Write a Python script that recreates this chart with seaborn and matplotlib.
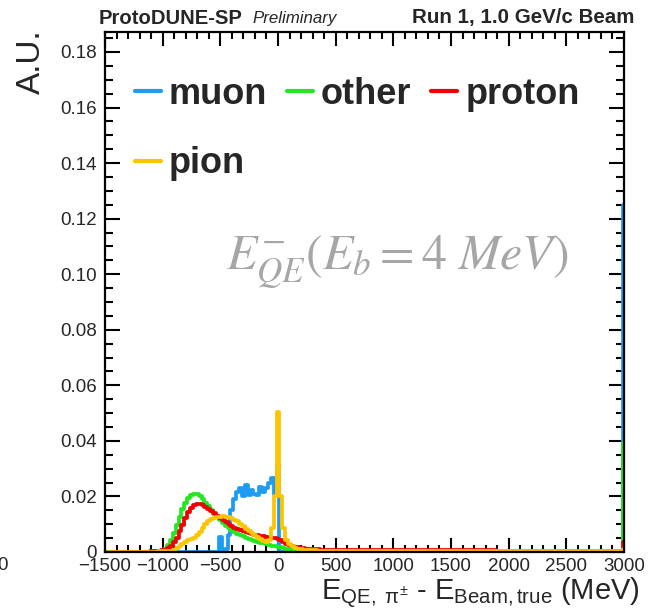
import numpy as np
import pandas as pd
import matplotlib
matplotlib.use("Agg")
import matplotlib.pyplot as plt
from matplotlib.ticker import MultipleLocator, FuncFormatter
from matplotlib.lines import Line2D
import seaborn as sns

# ---------------- data ----------------
# fine bins: 25 MeV wide, centred at -1100 ... 375 MeV
core_centers = list(range(-1100, 400, 25))

muon_core = [0]*24 + [
    0.0055, 0.0000, 0.0010, 0.0060, 0.0150, 0.0190, 0.0215, 0.0230, 0.0200, 0.0240,
    0.0205, 0.0225, 0.0210, 0.0205, 0.0235, 0.0215, 0.0230, 0.0250, 0.0268, 0.0205,
    0.0313, 0.0000, 0.0, 0.0, 0.0, 0.0, 0.0, 0.0, 0.0, 0.0, 0.0, 0.0, 0.0, 0.0, 0.0, 0.0]

other_core = [
    0.0001, 0.0001, 0.0002, 0.0003, 0.0006, 0.0012, 0.0025, 0.0045, 0.0070, 0.0098,
    0.0127, 0.0155, 0.0178, 0.0195, 0.0205, 0.0209, 0.0208, 0.0200, 0.0190, 0.0178,
    0.0164, 0.0150, 0.0137, 0.0125, 0.0114, 0.0104, 0.0095, 0.0087, 0.0080, 0.0073,
    0.0066, 0.0061, 0.0056, 0.0051, 0.0047, 0.0043, 0.0040, 0.0037, 0.0034, 0.0031,
    0.0028, 0.0026, 0.0023, 0.0021, 0.0019, 0.0017, 0.0015, 0.0012, 0.0010, 0.0008,
    0.0006, 0.0005, 0.0004, 0.0004, 0.0003, 0.0003, 0.0003, 0.0002, 0.0002, 0.0002]

proton_core = [
    0.0002, 0.0002, 0.0003, 0.0004, 0.0006, 0.0009, 0.0014, 0.0022, 0.0035, 0.0052,
    0.0074, 0.0098, 0.0122, 0.0143, 0.0158, 0.0168, 0.0173, 0.0173, 0.0170, 0.0163,
    0.0156, 0.0148, 0.0140, 0.0131, 0.0122, 0.0114, 0.0107, 0.0100, 0.0094, 0.0088,
    0.0083, 0.0079, 0.0075, 0.0071, 0.0068, 0.0065, 0.0062, 0.0060, 0.0058, 0.0056,
    0.0054, 0.0052, 0.0050, 0.0049, 0.0047, 0.0042, 0.0036, 0.0030, 0.0026, 0.0022,
    0.0019, 0.0017, 0.0015, 0.0013, 0.0012, 0.0011, 0.0011, 0.0010, 0.0010, 0.0009]

pion_core = [
    0.0001, 0.0001, 0.0001, 0.0002, 0.0002, 0.0003, 0.0003, 0.0005, 0.0008, 0.0013,
    0.0020, 0.0028, 0.0035, 0.0042, 0.0048, 0.0052, 0.0060, 0.0072, 0.0085, 0.0100,
    0.0112, 0.0118, 0.0122, 0.0125, 0.0127, 0.0128, 0.0127, 0.0125, 0.0121, 0.0116,
    0.0110, 0.0102, 0.0093, 0.0084, 0.0075, 0.0067, 0.0060, 0.0053, 0.0046, 0.0040,
    0.0036, 0.0045, 0.0085, 0.0200, 0.0505, 0.0200, 0.0085, 0.0045, 0.0030, 0.0020,
    0.0015, 0.0012, 0.0010, 0.0009, 0.0008, 0.0007, 0.0006, 0.0006, 0.0005, 0.0005]

# coarse tail bins (edges) and their values, last bin holds the overflow spike
tail_edges = [387.5, 637.5, 887.5, 1137.5, 1387.5, 1637.5, 1887.5, 2137.5,
              2387.5, 2637.5, 2887.5, 2992.0, 3000.0]
muon_tail   = [0, 0, 0, 0, 0, 0, 0, 0, 0, 0, 0, 0.1250]
other_tail  = [0.0002, 0.0002, 0.0001, 0.0001, 0.0001, 0.0001, 0.0001, 0.0001, 0.0001, 0.0001, 0.0001, 0.0391]
proton_tail = [0.0008, 0.0007, 0.0007, 0.0006, 0.0006, 0.0006, 0.0005, 0.0005, 0.0005, 0.0005, 0.0005, 0.0037]
pion_tail   = [0.0004, 0.0003, 0.0003, 0.0003, 0.0002, 0.0002, 0.0002, 0.0002, 0.0002, 0.0002, 0.0002, 0.0010]

first_bin_value = {"muon": 0.0, "other": 0.0001, "proton": 0.0001, "pion": 0.0001}

series_names = ["muon", "other", "proton", "pion"]
series_colors = ["#1e9cf2", "#22e822", "#f00000", "#ffc400"]

# ---------------- build histogram table ----------------
core_edges = [c - 12.5 for c in core_centers] + [core_centers[-1] + 12.5]
edges = [-1500.0] + [float(e) for e in core_edges] + [float(e) for e in tail_edges[1:]]
centers = [0.5 * (a + b) for a, b in zip(edges[:-1], edges[1:])]
values = {
    "muon":   [first_bin_value["muon"]] + muon_core + muon_tail,
    "other":  [first_bin_value["other"]] + other_core + other_tail,
    "proton": [first_bin_value["proton"]] + proton_core + proton_tail,
    "pion":   [first_bin_value["pion"]] + pion_core + pion_tail,
}
frames = []
for name in series_names:
    frames.append(pd.DataFrame({"x": centers, "w": [float(v) for v in values[name]], "particle": name}))
df = pd.concat(frames, ignore_index=True)

# ---------------- style ----------------
sns.set_theme(style="ticks")
plt.rcParams["font.family"] = ["Liberation Sans", "DejaVu Sans"]
plt.rcParams["mathtext.fontset"] = "custom"
plt.rcParams["mathtext.rm"] = "Liberation Sans"
plt.rcParams["mathtext.it"] = "Liberation Sans:italic"

W, H = 648, 614
fig = plt.figure(figsize=(W / 100, H / 100), dpi=100)
ax = fig.add_axes([105 / W, 1 - 552 / H, (624 - 105) / W, (552 - 32) / H])

for name, col in zip(series_names, series_colors):
    sub = df[df["particle"] == name]
    sns.histplot(x=sub["x"].to_numpy(), weights=sub["w"].to_numpy(), bins=edges,
                 element="step", fill=False, color=col, linewidth=2.7, ax=ax)

ax.set_xlim(-1500, 3000)
ax.set_ylim(0, 0.1872)
ax.set_xlabel("")
ax.set_ylabel("")

for s in ax.spines.values():
    s.set_linewidth(1.6)
    s.set_color("black")
    s.set_visible(True)

ax.xaxis.set_major_locator(MultipleLocator(500))
ax.xaxis.set_minor_locator(MultipleLocator(100))
ax.yaxis.set_major_locator(MultipleLocator(0.02))
ax.yaxis.set_minor_locator(MultipleLocator(0.005))
ax.tick_params(axis="both", which="both", direction="in", top=True, right=True,
               width=1.5, color="black")
ax.tick_params(which="major", axis="x", length=10, labelsize=13.5, pad=4)
ax.tick_params(which="minor", axis="x", length=5)
ax.tick_params(which="major", axis="y", length=11, labelsize=13.5, pad=6)
ax.tick_params(which="minor", axis="y", length=5.5)
ax.xaxis.set_major_formatter(FuncFormatter(lambda v, p: f"{int(v)}".replace("-", "\u2212")))
ax.yaxis.set_major_formatter(FuncFormatter(lambda v, p: "0" if abs(v) < 1e-9 else f"{v:.2f}"))
ax.grid(False)

# axis titles
fig.text(640 / W, 1 - 593 / H,
         r"E$_{\mathrm{QE,\ \pi^{\pm}}}$ - E$_{\mathrm{Beam,true}}$ (MeV)",
         ha="right", va="center", fontsize=21)
fig.text(31 / W, 1 - 29 / H, "A.U.", rotation=90, ha="center", va="top", fontsize=24)
fig.text(-3 / W, 1 - 566 / H, "0", ha="left", va="center", fontsize=13.5)

# header
fig.text(99 / W, 1 - 18 / H, "ProtoDUNE-SP", ha="left", va="center",
         fontsize=14.6, fontweight="bold")
fig.text(252 / W, 1 - 19 / H, "Preliminary", ha="left", va="center",
         fontsize=12.2, fontstyle="italic")
fig.text(634 / W, 1 - 18 / H, "Run 1, 1.0 GeV/c Beam", ha="right", va="center",
         fontsize=14.8, fontweight="bold")

# legend (row-major order: muon other proton / pion)
handles = {n: Line2D([], [], color=c, linewidth=3) for n, c in zip(series_names, series_colors)}
order = ["muon", "pion", "other", "proton"]
leg = ax.legend([handles[n] for n in order], order, ncol=3, frameon=False,
                loc="upper left", bbox_to_anchor=(135 / W, 1 - 77 / H),
                bbox_transform=fig.transFigure,
                prop={"family": "Liberation Sans", "weight": "bold", "size": 26},
                handlelength=0.72, handletextpad=0.22, columnspacing=0.55,
                labelspacing=0.95, borderpad=0, borderaxespad=0)

# annotation
fig.text(397 / W, 1 - 262 / H, r"$E^{-}_{QE}(E_b = 4\ MeV)$", ha="center", va="center",
         fontsize=36, color="#a6a6a6", math_fontfamily="stix")

fig.savefig("out.png", dpi=100)
